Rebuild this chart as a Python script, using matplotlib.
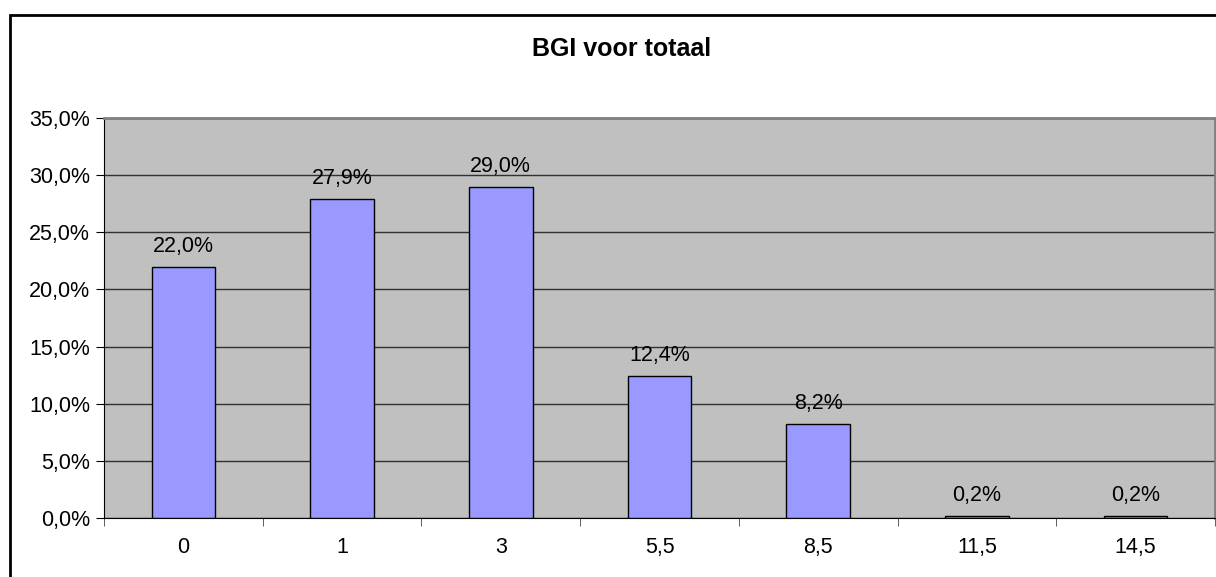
import matplotlib.pyplot as plt
from matplotlib.patches import Rectangle
from matplotlib.ticker import FuncFormatter

categories = ['0', '1', '3', '5,5', '8,5', '11,5', '14,5']
values = [22.0, 27.9, 29.0, 12.4, 8.2, 0.2, 0.2]
title = 'BGI voor totaal'

plt.rcParams['font.family'] = ['Liberation Sans', 'DejaVu Sans']

fig = plt.figure(figsize=(12.16, 5.77), dpi=100)
ax = fig.add_axes([104 / 1216, 1 - 518 / 577, (1215 - 104) / 1216, 400 / 577])

# outer chart frame, runs off the right/bottom edge like the original
fig.patches.append(Rectangle((9.5 / 1216, -0.1), 1.2, 1 - 14.5 / 577 + 0.1,
                             transform=fig.transFigure, fill=False,
                             edgecolor='black', linewidth=2))

ax.set_facecolor('#c0c0c0')
x = range(len(categories))
ax.bar(x, values, width=0.4, color='#9999ff', edgecolor='black', linewidth=1, zorder=3)

for i, v in enumerate(values):
    ax.text(i, v + 1.3, f'{v:.1f}%'.replace('.', ','), ha='center', va='baseline',
            fontsize=15.5, zorder=4)

ax.set_xlim(-0.5, len(categories) - 0.5)
ax.set_ylim(0, 35)
ax.set_yticks(range(0, 36, 5))
ax.yaxis.set_major_formatter(FuncFormatter(lambda v, p: f'{v:.1f}%'.replace('.', ',')))
ax.set_xticks(list(x))
ax.set_xticklabels(categories)
ax.set_xticks([i + 0.5 for i in range(-1, len(categories))], minor=True)
ax.tick_params(axis='x', which='major', length=0, pad=14, labelsize=15.5)
ax.tick_params(axis='x', which='minor', length=6, direction='out', color='#404040')
ax.tick_params(axis='y', length=6, direction='out', labelsize=15.5, pad=4)

ax.yaxis.grid(True, color='#303030', linewidth=1)
ax.set_axisbelow(True)
ax.spines['left'].set_color('black')
ax.spines['bottom'].set_color('black')
ax.spines['top'].set_color('#808080')
ax.spines['top'].set_linewidth(2)
ax.spines['right'].set_color('#808080')
ax.spines['right'].set_linewidth(2)

fig.text(622 / 1216, 1 - 49 / 577, title, ha='center', va='center',
         fontsize=18, fontweight='bold')

fig.savefig('out.png', dpi=100)
